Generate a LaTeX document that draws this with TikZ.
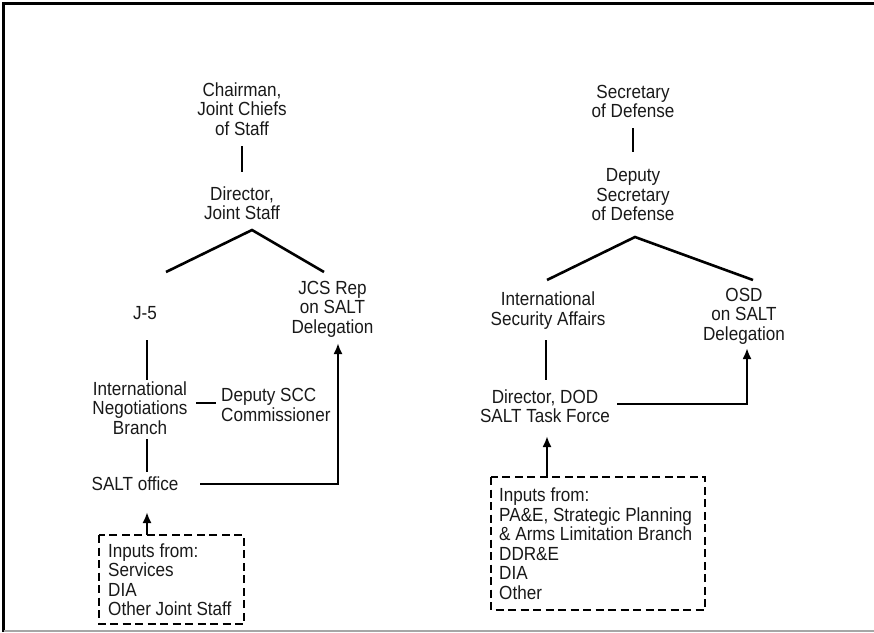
\documentclass[tikz,border=0pt]{standalone}
\usepackage{fontspec}
\setmainfont[FakeStretch=0.9]{Liberation Sans}
\usetikzlibrary{arrows.meta}
\begin{document}
\begin{tikzpicture}[x=1pt,y=-1pt,
  lbl/.style={inner sep=0pt,align=center,font=\fontsize{19}{19.5}\selectfont,text=black!90},
  lbll/.style={lbl,align=left},
  conn/.style={line width=2.6pt},
  arr/.style={line width=2.6pt,-{Latex[length=11pt,width=9pt]}},
  inbox/.style={line width=2.6pt,dash pattern=on 8pt off 4.5pt}]
\useasboundingbox (0,0) rectangle (874,632);
% frame
\draw[line width=3pt] (3.5,632) -- (3.5,3.5) -- (874,3.5);
\draw[line width=1.5pt,black!35] (3.5,631) -- (874,631);

% ---------- left tree ----------
\node[lbl] (chair) at (242,109) {Chairman,\\Joint Chiefs\\of Staff};
\node[lbl] (dir) at (242,203) {Director,\\Joint Staff};
\node[lbl] (j5) at (145,313) {J-5};
\node[lbl] (inb) at (140,408) {International\\Negotiations\\Branch};
\node[lbl] (salt) at (135,484) {SALT office};
\node[lbll,anchor=west] (dep) at (221,405) {Deputy SCC\\Commissioner};
\node[lbl] (jcs) at (332.5,309) {JCS Rep\\on SALT\\Delegation};
\node[lbll,anchor=west] (inl) at (108,579.5) {Inputs from:\\Services\\DIA\\Other Joint Staff};

\coordinate (c1) at (242,146); \coordinate (c2) at (242,172);
\coordinate (va) at (166,272); \coordinate (vb) at (252,230); \coordinate (vc) at (324,272);
\coordinate (j5a) at (147,340); \coordinate (j5b) at (147,380);
\coordinate (ina) at (147,439); \coordinate (inbb) at (147,472);
\coordinate (da) at (196,403); \coordinate (db) at (216,403);
\coordinate (sa) at (200,484); \coordinate (sb) at (338,343);
\coordinate (bl1) at (99,535); \coordinate (bl2) at (244,624);
\coordinate (la) at (147,535); \coordinate (lb) at (147,512);

\draw[conn] (c1) -- (c2);
\draw[conn] (va) -- (vb) -- (vc);
\draw[conn] (j5a) -- (j5b);
\draw[conn] (ina) -- (inbb);
\draw[conn] (da) -- (db);
\draw[arr] (sa) -| (sb);
\draw[inbox] (bl1) rectangle (bl2);
\draw[arr] (la) -- (lb);

% ---------- right tree ----------
\node[lbl] (sec) at (633,101.5) {Secretary\\of Defense};
\node[lbl] (dsec) at (633,195) {Deputy\\Secretary\\of Defense};
\node[lbl] (isa) at (548,310.5) {International\\Security Affairs};
\node[lbl] (ddod) at (545,406) {Director, DOD\\SALT Task Force};
\node[lbl] (osd) at (744,316) {OSD\\on SALT\\Delegation};
\node[lbll,anchor=west] (inr) at (499,543.5) {Inputs from:\\PA\&E, Strategic Planning\\\& Arms Limitation Branch\\DDR\&E\\DIA\\Other};

\coordinate (r1) at (633,128); \coordinate (r2) at (633,152);
\coordinate (wa) at (547,280); \coordinate (wb) at (635,237); \coordinate (wc) at (753,280);
\coordinate (ia) at (546,340); \coordinate (ib) at (546,380);
\coordinate (oa) at (617,404); \coordinate (ob) at (747,348);
\coordinate (br1) at (491,477); \coordinate (br2) at (705,610);
\coordinate (ra) at (547,477); \coordinate (rb) at (547,436);

\draw[conn] (r1) -- (r2);
\draw[conn] (wa) -- (wb) -- (wc);
\draw[conn] (ia) -- (ib);
\draw[arr] (oa) -| (ob);
\draw[inbox] (br1) rectangle (br2);
\draw[arr] (ra) -- (rb);
\end{tikzpicture}
\end{document}
